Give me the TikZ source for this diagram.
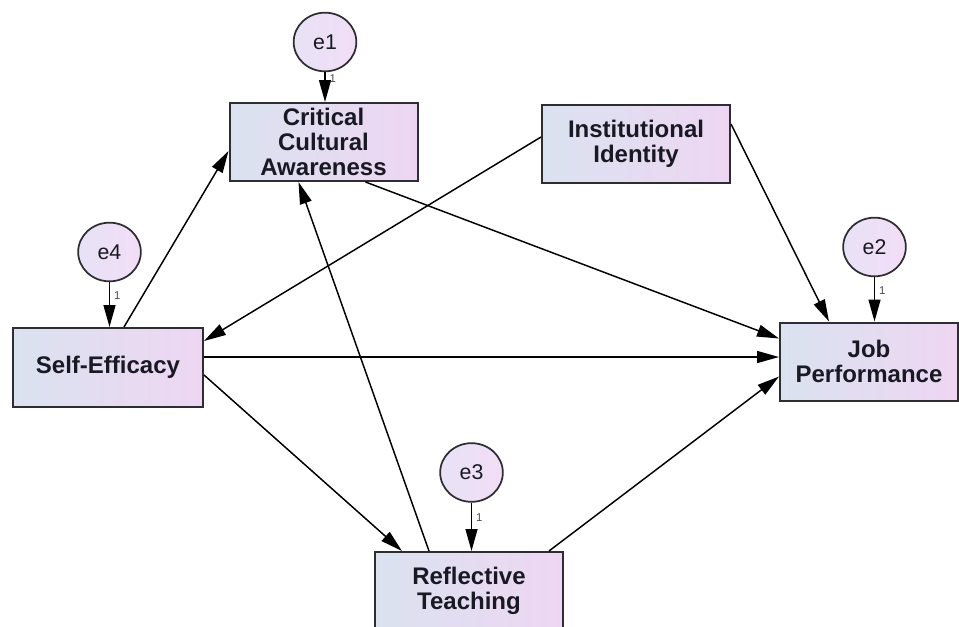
\documentclass[tikz,border=0pt]{standalone}
\usepackage{fontspec}
\setmainfont{Liberation Sans}
\usetikzlibrary{arrows.meta,calc,shapes.geometric}
\definecolor{boxL}{RGB}{218,226,240}
\definecolor{boxR}{RGB}{238,214,242}
\definecolor{circL}{RGB}{232,226,246}
\definecolor{circR}{RGB}{242,222,246}
\definecolor{edgeC}{RGB}{45,45,50}
\definecolor{txtC}{RGB}{25,25,35}
\begin{document}
\begin{tikzpicture}[x=0.75pt,y=-0.75pt,
  box/.style={draw=edgeC,line width=1.5pt,left color=boxL,right color=boxR,
    minimum width=141pt,minimum height=58.5pt,inner sep=0pt,align=center,
    font=\fontsize{18}{19}\selectfont\bfseries,text=txtC},
  err/.style={ellipse,draw=edgeC,line width=1.3pt,left color=circL,right color=circR,
    minimum width=47pt,minimum height=44pt,inner sep=0pt,
    font=\fontsize{16}{16}\selectfont,text=txtC},
  conn/.style={-{Triangle[length=16.5pt,width=9pt]},line width=1.1pt,black},
  one/.style={font=\fontsize{8.5}{9}\selectfont,text=black!70,anchor=west,inner sep=1pt,xshift=2pt}]
\useasboundingbox (0,0) rectangle (959,626);
% boxes
\node[box] (cca) at (323.5,142) {Critical\\Cultural\\Awareness};
\node[box] (ii) at (636,144) {Institutional\\Identity};
\node[box,minimum width=142.5pt,minimum height=59.25pt] (se) at (108,367.5) {Self-Efficacy};
\node[box,minimum width=133.5pt] (jp) at (869,361.5) {Job\\Performance};
\node[box] (rt) at (469,591) {Reflective\\Teaching};
% error terms
\node[err] (e1) at (325,42) {e1};
\node[err] (e4) at (109.5,252) {e4};
\node[err] (e2) at (874.5,247) {e2};
\node[err] (e3) at (471.5,472.5) {e3};
% error arrows
\draw[conn] (e1) -- node[one,pos=0.2] (l1) {1} (e1 |- cca.north);
\draw[conn] (e4) -- node[one,pos=0.3] (l4) {1} (e4 |- se.north);
\draw[conn] (e2) -- node[one,pos=0.3] (l2) {1} (e2 |- jp.north);
\draw[conn] (e3) -- node[one,pos=0.3] (l3) {1} (e3 |- rt.north);
% structural paths
\draw[conn] ([shift={(112,0)}]se.north west) -- ([shift={(0,49)}]cca.north west);
\draw[conn] ([shift={(137,0)}]cca.south west) -- ([shift={(0,17)}]jp.north west);
\draw[conn] ([shift={(55,0)}]rt.north west) -- ([shift={(70,0)}]cca.south west);
\draw[conn] ([shift={(0,33)}]ii.north west) -- ([shift={(0,14)}]se.north east);
\draw[conn] ([shift={(0,20)}]ii.north east) -- ([shift={(50,0)}]jp.north west);
\coordinate (s6) at ([shift={(0,30)}]se.north east);
\draw[conn] (s6) -- (s6 -| jp.west);
\draw[conn] ([shift={(0,48)}]se.north east) -- ([shift={(28,0)}]rt.north west);
\draw[conn] ([shift={(175,0)}]rt.north west) -- ([shift={(0,55)}]jp.north west);
\end{tikzpicture}
\end{document}
